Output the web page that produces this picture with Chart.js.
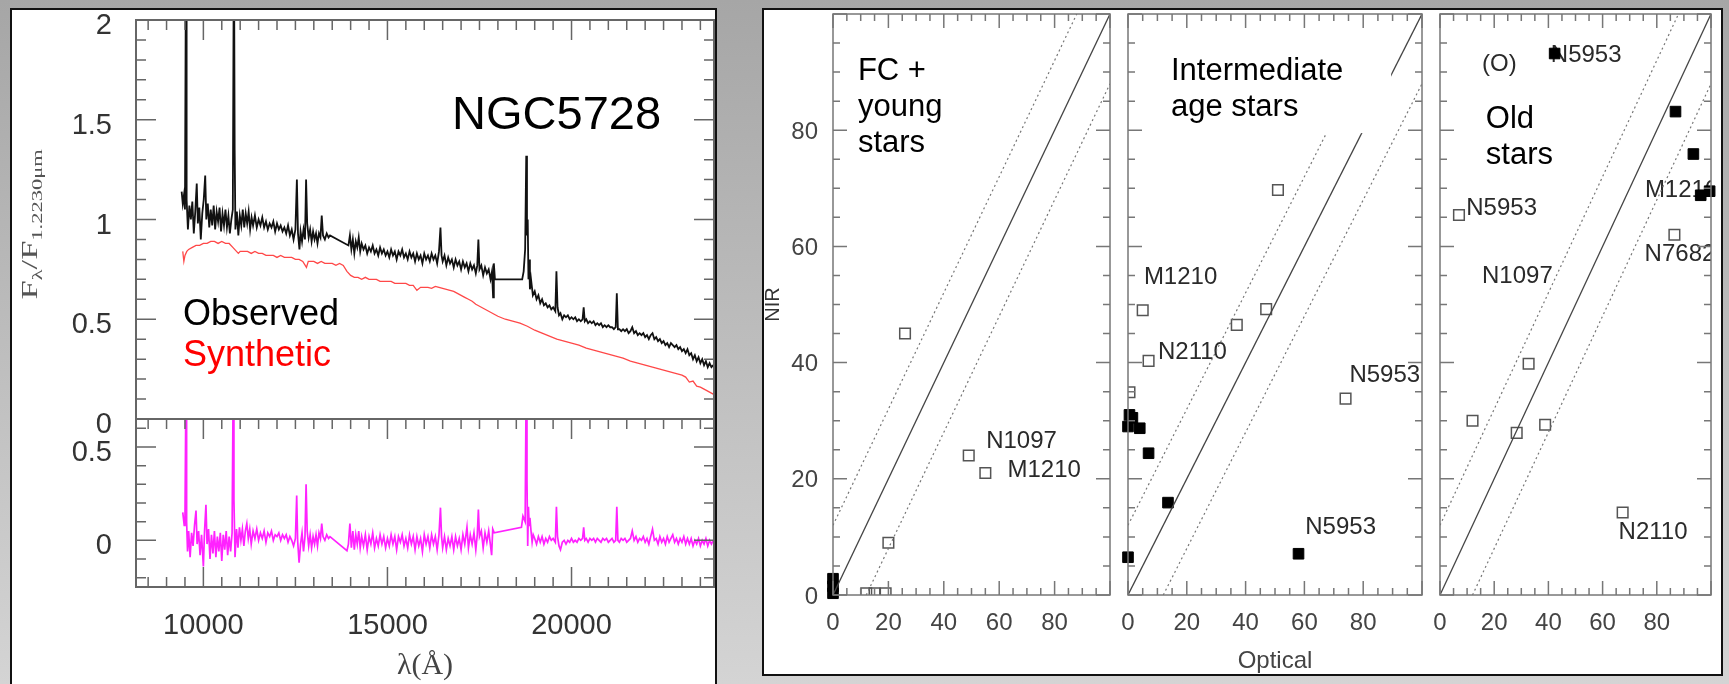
<!DOCTYPE html>
<html>
<head>
<meta charset="utf-8">
<script src="https://cdn.jsdelivr.net/npm/chart.js@4.4.1/dist/chart.umd.min.js"></script>
<style>
body { margin: 0; width: 1729px; height: 684px; overflow: hidden; position: relative;
       background: linear-gradient(#a6a6a6, #d4d4d4); }
.panel { position: absolute; background: #fff; border: 2px solid #111; box-sizing: border-box; }
canvas { position: absolute; }
</style>
</head>
<body>
<div class="panel" style="left:10px;top:8px;width:707px;height:700px"></div>
<div class="panel" style="left:762px;top:8px;width:961px;height:668px"></div>
<canvas id="specTop" width="717" height="450" style="left:0;top:0"></canvas>
<canvas id="specBot" width="717" height="284" style="left:0;top:400px"></canvas>
<canvas id="fc" width="355" height="676" style="left:764px;top:0"></canvas>
<canvas id="inter" width="312" height="676" style="left:1119px;top:0"></canvas>
<canvas id="old" width="289" height="676" style="left:1431px;top:0"></canvas>
<script>
// ---- spectrum of NGC5728 (wavelength in Angstrom, flux normalised at 1.2230 micron)
const waveRange = [8170, 23870];
const waveTicks = [10000, 15000, 20000];
const fluxTicks = [0, 0.5, 1, 1.5, 2];
const resTicks = [0, 0.5];

const observed = [
  [9410,1.14],[9440,1.08],[9470,1.12],[9500,1.05],[9530,2.5],[9545,1.10],[9580,0.95],[9620,1.07],
  [9660,1.00],[9700,1.09],[9740,0.93],[9780,1.04],[9820,1.18],[9850,0.98],[9890,1.06],[9930,0.90],
  [9970,1.03],[10010,1.10],[10050,1.22],[10080,1.00],[10120,1.08],[10160,0.96],[10200,1.05],[10240,0.97],
  [10280,1.07],[10320,0.95],[10360,1.04],[10400,0.99],[10440,1.06],[10480,0.94],[10520,1.03],[10560,0.97],
  [10600,1.05],[10640,0.96],[10680,1.02],[10720,0.93],[10760,1.00],[10800,1.05],[10830,2.5],[10850,1.35],
  [10870,0.95],[10910,1.04],[10950,0.92],[10990,1.02],[11030,0.97],[11070,1.05],[11110,0.96],[11150,1.03],
  [11190,0.98],[11230,1.04],[11270,0.95],[11310,1.01],[11350,0.97],[11400,1.02],[11450,0.96],[11500,1.00],
  [11550,0.97],[11600,1.01],[11650,0.96],[11700,0.99],[11750,0.95],[11800,0.98],[11850,0.96],[11900,0.99],
  [11950,0.94],[12000,0.98],[12050,0.95],[12100,0.97],[12150,0.94],[12200,0.96],[12250,0.93],[12300,0.97],
  [12350,0.92],[12400,0.95],[12450,0.90],[12500,0.95],[12540,1.20],[12570,0.93],[12610,0.85],[12640,0.94],
  [12680,0.89],[12720,0.95],[12760,0.90],[12790,1.20],[12820,0.98],[12860,0.91],[12900,0.95],[12940,0.89],
  [12980,0.94],[13020,0.90],[13060,0.93],[13100,0.88],[13140,0.93],[13180,0.91],[13215,1.02],[13250,0.92],
  [13300,0.90],[13350,0.93],[13400,0.91],[13440,0.92],[13940,0.87],[13980,0.92],[14020,0.85],[14060,0.90],
  [14100,0.83],[14140,0.89],[14180,0.86],[14220,0.91],[14260,0.84],[14300,0.88],[14350,0.85],[14400,0.87],
  [14450,0.83],[14500,0.86],[14550,0.84],[14600,0.87],[14650,0.83],[14700,0.85],[14750,0.82],[14800,0.86],
  [14850,0.83],[14900,0.85],[14950,0.82],[15000,0.84],[15050,0.81],[15100,0.85],[15150,0.82],[15200,0.84],
  [15250,0.80],[15300,0.84],[15350,0.82],[15400,0.85],[15450,0.81],[15500,0.83],[15550,0.80],[15600,0.84],
  [15650,0.81],[15700,0.83],[15750,0.79],[15800,0.83],[15850,0.80],[15900,0.82],[15950,0.78],[16000,0.83],
  [16050,0.80],[16100,0.82],[16150,0.79],[16200,0.83],[16250,0.80],[16300,0.82],[16350,0.78],[16400,0.84],
  [16440,0.96],[16470,0.82],[16500,0.79],[16550,0.82],[16600,0.77],[16650,0.81],[16700,0.78],[16750,0.80],
  [16800,0.76],[16850,0.80],[16900,0.77],[16950,0.79],[17000,0.75],[17050,0.79],[17100,0.76],[17150,0.78],
  [17200,0.74],[17250,0.78],[17300,0.75],[17350,0.77],[17400,0.73],[17440,0.77],[17470,0.90],[17500,0.75],
  [17550,0.77],[17600,0.72],[17650,0.76],[17700,0.73],[17750,0.75],[17800,0.70],[17840,0.74],[17870,0.61],
  [17890,0.78],[17920,0.70],[18660,0.70],[18700,0.74],[18740,0.85],[18770,1.32],[18790,0.92],[18810,1.00],
  [18830,0.70],[18850,0.80],[18870,0.65],[18900,0.70],[18950,0.62],[19000,0.64],[19050,0.60],[19100,0.62],
  [19150,0.58],[19200,0.60],[19250,0.57],[19300,0.58],[19350,0.56],[19400,0.57],[19450,0.55],[19500,0.56],
  [19560,0.54],[19590,0.74],[19620,0.56],[19660,0.52],[19700,0.53],[19750,0.50],[19800,0.52],[19850,0.51],
  [19900,0.52],[19950,0.50],[20000,0.51],[20050,0.50],[20100,0.51],[20150,0.49],[20200,0.50],[20250,0.49],
  [20300,0.50],[20330,0.56],[20360,0.49],[20400,0.50],[20450,0.48],[20500,0.49],[20550,0.48],[20600,0.49],
  [20650,0.47],[20700,0.48],[20750,0.47],[20800,0.48],[20850,0.46],[20900,0.47],[20950,0.46],[21000,0.47],
  [21050,0.46],[21100,0.46],[21150,0.45],[21200,0.46],[21230,0.63],[21260,0.45],[21300,0.45],[21350,0.44],
  [21400,0.45],[21450,0.44],[21500,0.45],[21550,0.43],[21600,0.44],[21650,0.46],[21700,0.43],[21750,0.44],
  [21800,0.42],[21850,0.43],[21900,0.42],[21950,0.43],[22000,0.41],[22050,0.42],[22100,0.40],[22150,0.42],
  [22200,0.43],[22250,0.40],[22300,0.41],[22350,0.39],[22400,0.40],[22450,0.38],[22500,0.39],[22550,0.37],
  [22600,0.38],[22650,0.36],[22700,0.38],[22750,0.37],[22800,0.36],[22850,0.37],[22900,0.35],[22950,0.36],
  [23000,0.34],[23050,0.35],[23100,0.33],[23150,0.35],[23200,0.32],[23250,0.33],[23300,0.30],[23350,0.32],
  [23400,0.29],[23450,0.31],[23500,0.28],[23550,0.30],[23600,0.27],[23650,0.29],[23700,0.26],[23750,0.28],
  [23800,0.26],[23850,0.27]
];

const synthetic = [
  [9440,0.84],[9470,0.79],[9500,0.82],[9550,0.84],[9600,0.85],[9700,0.86],[9800,0.87],[9900,0.87],
  [10000,0.88],[10100,0.88],[10200,0.89],[10300,0.89],[10400,0.88],[10500,0.89],[10600,0.88],[10700,0.88],
  [10800,0.86],[10900,0.84],[10950,0.83],[11000,0.84],[11100,0.84],[11200,0.84],[11300,0.83],[11400,0.84],
  [11500,0.83],[11600,0.83],[11700,0.82],[11800,0.82],[11900,0.82],[12000,0.81],[12100,0.82],[12200,0.81],
  [12300,0.81],[12400,0.81],[12500,0.80],[12600,0.80],[12700,0.79],[12800,0.76],[12850,0.79],[12900,0.79],
  [13000,0.79],[13100,0.78],[13200,0.79],[13300,0.78],[13400,0.78],[13500,0.78],[13600,0.77],[13700,0.78],
  [13800,0.77],[13900,0.74],[14000,0.72],[14100,0.71],[14200,0.71],[14300,0.70],[14400,0.71],[14500,0.70],
  [14600,0.70],[14700,0.70],[14800,0.69],[14900,0.69],[15000,0.69],[15100,0.69],[15200,0.68],[15300,0.68],
  [15400,0.68],[15500,0.68],[15600,0.67],[15700,0.67],[15800,0.645],[15900,0.66],[16000,0.66],[16100,0.66],
  [16200,0.655],[16300,0.665],[16400,0.66],[16500,0.655],[16600,0.65],[16700,0.645],[16800,0.64],[16900,0.63],
  [17000,0.62],[17100,0.61],[17200,0.60],[17300,0.59],[17400,0.575],[17500,0.565],[17600,0.555],[17700,0.545],
  [17800,0.535],[17900,0.525],[18000,0.515],[18200,0.50],[18400,0.49],[18600,0.48],[18800,0.465],[19000,0.445],
  [19200,0.43],[19400,0.415],[19600,0.40],[19800,0.39],[20000,0.38],[20200,0.37],[20400,0.355],[20600,0.345],
  [20800,0.335],[21000,0.325],[21200,0.315],[21400,0.305],[21600,0.29],[21800,0.28],[22000,0.27],[22200,0.26],
  [22400,0.25],[22600,0.24],[22800,0.23],[23000,0.22],[23100,0.21],[23200,0.185],[23300,0.19],[23400,0.165],
  [23500,0.16],[23600,0.15],[23700,0.14],[23850,0.125]
];

const residual = [
  [9440,0.15],[9480,0.08],[9500,0.12],[9530,0.9],[9545,0.10],[9570,-0.06],[9600,0.05],[9640,-0.09],
  [9680,0.04],[9720,-0.03],[9760,0.08],[9800,0.16],[9830,-0.02],[9870,0.05],[9910,-0.08],[9950,0.03],
  [10000,-0.14],[10030,0.04],[10070,0.19],[10100,-0.02],[10140,0.06],[10180,-0.10],[10220,0.03],[10260,-0.07],
  [10300,0.05],[10340,-0.09],[10380,0.02],[10420,-0.06],[10460,0.04],[10500,-0.11],[10540,0.03],[10580,-0.05],
  [10620,0.05],[10660,-0.08],[10700,0.02],[10740,-0.06],[10780,0.04],[10812,0.9],[10830,0.22],[10860,-0.09],
  [10900,0.06],[10940,-0.04],[10980,0.07],[11020,0.00],[11060,0.06],[11100,-0.03],[11140,0.05],[11180,0.09],
  [11220,0.01],[11260,0.06],[11300,-0.02],[11350,0.05],[11400,0.01],[11450,0.06],[11500,0.00],[11550,0.04],
  [11600,0.01],[11650,0.05],[11700,-0.01],[11750,0.04],[11800,0.02],[11850,0.05],[11900,0.00],[11950,0.03],
  [12000,0.02],[12050,0.04],[12100,0.00],[12150,0.03],[12200,0.01],[12250,0.03],[12300,-0.01],[12350,0.02],
  [12400,0.00],[12450,-0.03],[12500,0.01],[12535,0.24],[12560,0.00],[12600,-0.12],[12640,-0.02],[12680,0.04],
  [12720,-0.06],[12760,0.02],[12790,0.30],[12820,0.05],[12860,-0.03],[12900,0.03],[12940,-0.04],[12980,0.02],
  [13020,-0.02],[13060,0.03],[13100,-0.03],[13140,0.04],[13180,0.01],[13215,0.09],[13250,0.02],[13300,0.00],
  [13350,0.03],[13400,0.01],[13440,0.02],[13900,-0.055],[13940,-0.02],[13980,0.09],[14020,-0.04],[14060,0.05],
  [14100,-0.05],[14140,0.03],[14180,-0.02],[14220,0.05],[14260,-0.04],[14300,0.02],[14350,-0.03],[14400,0.03],
  [14450,-0.05],[14500,0.02],[14550,-0.02],[14600,0.04],[14650,-0.04],[14700,0.01],[14750,-0.03],[14800,0.03],
  [14850,-0.02],[14900,0.02],[14950,-0.04],[15000,0.01],[15050,-0.03],[15100,0.03],[15150,-0.02],[15200,0.02],
  [15250,-0.05],[15300,0.02],[15350,-0.01],[15400,0.03],[15450,-0.03],[15500,0.01],[15550,-0.04],[15600,0.03],
  [15650,-0.02],[15700,0.02],[15750,-0.05],[15800,0.02],[15850,-0.03],[15900,0.01],[15950,-0.06],[16000,0.03],
  [16050,-0.02],[16100,0.02],[16150,-0.04],[16200,0.03],[16250,-0.02],[16300,0.02],[16350,-0.05],[16400,0.03],
  [16440,0.175],[16470,0.02],[16500,-0.04],[16550,0.02],[16600,-0.05],[16650,0.01],[16700,-0.03],[16750,0.02],
  [16800,-0.05],[16850,0.02],[16900,-0.03],[16950,0.01],[17000,-0.05],[17050,0.03],[17100,-0.02],[17160,0.07],
  [17200,-0.04],[17250,0.03],[17300,-0.02],[17350,0.04],[17400,-0.05],[17440,0.03],[17470,0.165],[17500,0.02],
  [17550,0.05],[17600,-0.04],[17650,0.04],[17700,-0.01],[17750,0.05],[17800,-0.03],[17830,-0.08],[17860,0.06],
  [17900,0.04],[18640,0.07],[18680,0.13],[18740,0.10],[18770,0.9],[18790,0.32],[18810,-0.03],[18830,0.18],
  [18850,0.08],[18870,0.12],[18900,0.05],[18930,-0.01],[18960,0.03],[19000,0.01],[19050,-0.02],[19100,0.02],
  [19150,-0.01],[19200,0.02],[19250,-0.02],[19300,0.01],[19350,-0.01],[19400,0.02],[19450,0.00],[19500,0.01],
  [19560,-0.01],[19590,0.18],[19620,0.02],[19660,-0.03],[19700,-0.05],[19750,-0.01],[19800,0.00],[19850,-0.02],
  [19900,0.00],[19950,-0.01],[20000,0.01],[20050,-0.01],[20100,0.00],[20150,-0.01],[20200,0.01],[20250,0.00],
  [20300,0.01],[20330,0.07],[20360,0.00],[20400,0.01],[20450,-0.01],[20500,0.01],[20550,0.00],[20600,0.01],
  [20650,-0.01],[20700,0.01],[20750,0.00],[20800,-0.01],[20850,0.01],[20900,0.00],[20950,0.01],[21000,-0.01],
  [21050,0.00],[21100,0.01],[21150,-0.01],[21200,0.00],[21230,0.18],[21260,0.00],[21300,-0.01],[21350,0.01],
  [21400,0.00],[21450,0.01],[21500,-0.01],[21550,0.00],[21600,0.01],[21650,0.05],[21700,0.00],[21750,0.02],
  [21800,-0.01],[21850,0.01],[21900,0.00],[21950,0.02],[22000,-0.01],[22050,0.01],[22100,-0.02],[22150,0.02],
  [22200,0.06],[22250,0.00],[22300,0.01],[22350,-0.02],[22400,0.02],[22450,-0.01],[22500,0.01],[22550,-0.02],
  [22600,0.02],[22650,-0.01],[22700,0.01],[22750,0.03],[22800,-0.01],[22850,0.01],[22900,-0.02],[22950,0.01],
  [23000,-0.01],[23050,0.02],[23100,-0.02],[23150,0.01],[23200,-0.02],[23250,0.01],[23300,-0.03],[23350,0.00],
  [23400,-0.02],[23450,0.01],[23500,-0.03],[23550,0.00],[23600,-0.02],[23650,0.01],[23700,-0.03],[23750,0.00],
  [23800,-0.02],[23850,0.00]
];

// ---- optical vs NIR population fractions (%)
const pctTicks = [0, 20, 40, 60, 80];
const diagX = [0, 100], diagY = [0, 100];
const bandUpX = [0, 88], bandUpY = [12, 100];
const bandLoX = [12, 100], bandLoY = [0, 88];

const fcOpenX = [26, 49, 55, 20, 12, 15, 19];
const fcOpenY = [45, 24, 21, 9, 0.3, 0.3, 0.3];
const fcFillX = [0, 0, 0];
const fcFillY = [0.3, 1.5, 2.8];

const intOpenX = [51, 5, 37, 47, 7, 0.5, 74];
const intOpenY = [69.7, 49, 46.5, 49.2, 40.3, 34.9, 33.8];
const intFillX = [0.5, 1.5, 0, 4, 7, 13.6, 0, 58];
const intFillY = [31, 30.5, 29, 28.7, 24.4, 15.9, 6.5, 7.1];

const oldOpenX = [7, 32.7, 12, 28.3, 38.8, 67.4, 86.5];
const oldOpenY = [65.4, 39.8, 30, 27.9, 29.3, 14.2, 62];
const oldFillX = [42.3, 86.9, 93.5, 96.2, 99.5];
const oldFillY = [93.2, 83.2, 75.9, 68.8, 69.5];

const fcNames = [{t: 'N1097', x: 55.3, y: 26.5}, {t: 'M1210', x: 63, y: 21.4}];
const intNames = [{t: 'M1210', x: 5.4, y: 54.7}, {t: 'N2110', x: 10.2, y: 41.7},
                  {t: 'N5953', x: 75.3, y: 37.8}, {t: 'N5953', x: 60.3, y: 11.6}];
const oldNames = [{t: '(O)', x: 15.5, y: 91.3}, {t: 'N5953', x: 40.9, y: 92.8},
                  {t: 'N5953', x: 9.7, y: 66.6}, {t: 'N1097', x: 15.5, y: 54.8},
                  {t: 'M1210', x: 75.6, y: 69.7}, {t: 'N7682', x: 75.5, y: 58.6},
                  {t: 'N2110', x: 65.9, y: 10.7}];

const sans = '"Liberation Sans", Arial, sans-serif';
const serif = '"Liberation Serif", "Times New Roman", serif';

const toXY = pairs => pairs.map(p => ({x: p[0], y: p[1]}));
const zipXY = (xs, ys) => xs.map((v, i) => ({x: v, y: ys[i]}));

// extra drawing per canvas: frame with inward ticks, annotations
const decorCfg = {
  specTop: {
    frame: {xMajor: 5000, xMinor: 500, yMajor: 0.5, yMinor: 0.1, majorLen: 20, minorLen: 10,
            color: '#666', width: 2, top: true, bottom: false},
    texts: [{lines: ['NGC5728'], x: 16755, y: 1.455, size: 47, color: '#000'},
            {lines: ['Observed'], x: 9446, y: 0.471, size: 36, color: '#000'},
            {lines: ['Synthetic'], x: 9446, y: 0.266, size: 36, color: '#ff0000'}],
    fluxTitle: true
  },
  specBot: {
    frame: {xMajor: 5000, xMinor: 500, yMajor: 0.5, yMinor: 0.1, majorLen: 20, minorLen: 10,
            color: '#666', width: 2, top: true, bottom: true}
  },
  fc: {
    frame: {xMajor: 20, xMinor: 5, yMajor: 20, yMinor: 5, majorLen: 14, minorLen: 7,
            color: '#777', width: 1.5, top: true, bottom: true},
    names: fcNames,
    texts: [{lines: ['FC +', 'young', 'stars'], x: 9, y: 88.6, size: 31, color: '#000'}]
  },
  inter: {
    frame: {xMajor: 20, xMinor: 5, yMajor: 20, yMinor: 5, majorLen: 14, minorLen: 7,
            color: '#777', width: 1.5, top: true, bottom: true},
    names: intNames,
    box: {x0: 12, x1: 89.5, y0: 79.5, y1: 100},
    texts: [{lines: ['Intermediate', 'age stars'], x: 14.6, y: 88.7, size: 31, color: '#000'}]
  },
  old: {
    frame: {xMajor: 20, xMinor: 5, yMajor: 20, yMinor: 5, majorLen: 14, minorLen: 7,
            color: '#777', width: 1.5, top: true, bottom: true},
    names: oldNames,
    texts: [{lines: ['Old', 'stars'], x: 16.9, y: 80.4, size: 31, color: '#000'}]
  }
};

function drawFrame(chart, f) {
  const {ctx, chartArea: a, scales: {x, y}} = chart;
  ctx.save();
  ctx.strokeStyle = f.color;
  ctx.lineWidth = 1.5;
  ctx.beginPath();
  const run = (scale, step, len, horiz) => {
    for (let i = Math.ceil(scale.min / step - 1e-6); i * step <= scale.max + 1e-6; i++) {
      const p = scale.getPixelForValue(i * step);
      if (horiz) {
        if (f.bottom) { ctx.moveTo(p, a.bottom); ctx.lineTo(p, a.bottom - len); }
        if (f.top) { ctx.moveTo(p, a.top); ctx.lineTo(p, a.top + len); }
      } else {
        ctx.moveTo(a.left, p); ctx.lineTo(a.left + len, p);
        ctx.moveTo(a.right, p); ctx.lineTo(a.right - len, p);
      }
    }
  };
  run(x, f.xMinor, f.minorLen, true);
  run(x, f.xMajor, f.majorLen, true);
  run(y, f.yMinor, f.minorLen, false);
  run(y, f.yMajor, f.majorLen, false);
  ctx.stroke();
  ctx.lineWidth = f.width;
  ctx.strokeRect(a.left, a.top, a.right - a.left, a.bottom - a.top);
  ctx.restore();
}

function drawFluxTitle(chart) {
  const {ctx, chartArea: a} = chart;
  const mid = (a.top + a.bottom) / 2;
  ctx.save();
  ctx.translate(37, mid + 80);
  ctx.rotate(-Math.PI / 2);
  ctx.scale(1.5, 1);
  ctx.fillStyle = '#555';
  let pos = 0;
  const put = (t, size, dy) => {
    ctx.font = size + 'px ' + serif;
    ctx.fillText(t, pos, dy);
    pos += ctx.measureText(t).width;
  };
  put('F', 23, 0); put('λ', 15, 5); put('/', 23, 0); put('F', 23, 0); put('1.2230μm', 15, 5);
  ctx.restore();
}

const decor = {
  id: 'decor',
  beforeDatasetsDraw(chart) {
    const cfg = decorCfg[chart.canvas.id];
    if (!cfg || !cfg.names) return;
    const {ctx, chartArea: a, scales: {x, y}} = chart;
    ctx.save();
    ctx.beginPath();
    ctx.rect(a.left, a.top, a.right - a.left, a.bottom - a.top);
    ctx.clip();
    ctx.font = '24px ' + sans;
    ctx.fillStyle = '#2a2a2a';
    ctx.textBaseline = 'middle';
    cfg.names.forEach(n => ctx.fillText(n.t, x.getPixelForValue(n.x), y.getPixelForValue(n.y)));
    ctx.restore();
  },
  afterDatasetsDraw(chart) {
    const cfg = decorCfg[chart.canvas.id];
    if (!cfg) return;
    const {ctx, scales: {x, y}} = chart;
    ctx.save();
    if (cfg.box) {
      const b = cfg.box;
      const px0 = x.getPixelForValue(b.x0), px1 = x.getPixelForValue(b.x1);
      const py0 = y.getPixelForValue(b.y1), py1 = y.getPixelForValue(b.y0);
      ctx.fillStyle = '#fff';
      ctx.fillRect(px0, py0, px1 - px0, py1 - py0);
    }
    (cfg.texts || []).forEach(t => {
      ctx.font = t.size + 'px ' + sans;
      ctx.fillStyle = t.color;
      ctx.textBaseline = 'alphabetic';
      const px = x.getPixelForValue(t.x), py = y.getPixelForValue(t.y);
      t.lines.forEach((line, i) => ctx.fillText(line, px, py + i * 36));
    });
    ctx.restore();
    drawFrame(chart, cfg.frame);
    if (cfg.fluxTitle) drawFluxTitle(chart);
  }
};
Chart.register(decor);

const baseOpts = {
  responsive: false,
  animation: false,
  events: [],
  plugins: {legend: {display: false}, tooltip: {enabled: false}}
};

// fixed axis sizes, and no extra room reserved for end labels
const fixY = w => s => { s.width = w; s.paddingTop = 0; s.paddingBottom = 0; };
const fixX = h => s => { s.height = h; s.paddingLeft = 0; s.paddingRight = 0; };

// upper spectrum
new Chart(document.getElementById('specTop'), {
  type: 'line',
  data: {datasets: [
    {data: toXY(synthetic), borderColor: '#ff4848', borderWidth: 1.3, pointRadius: 0},
    {data: toXY(observed), borderColor: '#111', borderWidth: 1.8, pointRadius: 0}
  ]},
  options: Object.assign({}, baseOpts, {
    layout: {padding: {left: 0, top: 20, right: 3, bottom: 31}},
    scales: {
      x: {type: 'linear', min: waveRange[0], max: waveRange[1], display: false},
      y: {min: 0, max: 2,
          afterFit: fixY(136),
          afterBuildTicks: s => { s.ticks = fluxTicks.map(v => ({value: v})); },
          grid: {display: false, drawTicks: false}, border: {display: false},
          ticks: {font: {size: 29, family: sans}, color: '#333', padding: 24, labelOffset: 6,
                  callback: v => String(v)}}
    }
  })
});

// residual
new Chart(document.getElementById('specBot'), {
  type: 'line',
  data: {datasets: [
    {data: toXY(residual), borderColor: '#ff22ff', borderWidth: 1.7, pointRadius: 0}
  ]},
  options: Object.assign({}, baseOpts, {
    layout: {padding: {left: 0, top: 19, right: 3, bottom: 0}},
    scales: {
      x: {type: 'linear', min: waveRange[0], max: waveRange[1],
          afterFit: fixX(97),
          afterBuildTicks: s => { s.ticks = waveTicks.map(v => ({value: v})); },
          grid: {display: false, drawTicks: false}, border: {display: false},
          ticks: {font: {size: 29, family: sans}, color: '#333', padding: 22, maxRotation: 0,
                  autoSkip: false, callback: v => String(v)},
          title: {display: true, text: 'λ(Å)', font: {size: 30, family: serif}, color: '#444',
                  padding: {top: 0, bottom: 0}}},
      y: {min: -0.25, max: 0.65,
          afterFit: fixY(136),
          afterBuildTicks: s => { s.ticks = resTicks.map(v => ({value: v})); },
          grid: {display: false, drawTicks: false}, border: {display: false},
          ticks: {font: {size: 29, family: sans}, color: '#333', padding: 24, labelOffset: 6,
                  callback: v => String(v)}}
    }
  })
});

function popChart(id, open, filled, opt) {
  return new Chart(document.getElementById(id), {
    type: 'scatter',
    data: {datasets: [
      {data: zipXY(diagX, diagY), showLine: true, borderColor: '#444', borderWidth: 1.3, pointRadius: 0},
      {data: zipXY(bandUpX, bandUpY), showLine: true, borderColor: '#777', borderWidth: 1.2,
       borderDash: [2, 3], pointRadius: 0},
      {data: zipXY(bandLoX, bandLoY), showLine: true, borderColor: '#777', borderWidth: 1.2,
       borderDash: [2, 3], pointRadius: 0},
      {data: open, pointStyle: 'rect', pointRadius: 7.5, borderColor: '#555', borderWidth: 1.5,
       backgroundColor: 'rgba(0,0,0,0)'},
      {data: filled, pointStyle: 'rect', pointRadius: 7.5, borderColor: '#000', borderWidth: 1,
       backgroundColor: '#000', clip: false}
    ]},
    options: Object.assign({}, baseOpts, {
      layout: {padding: opt.padding},
      scales: {
        x: {type: 'linear', min: 0, max: 100,
            afterFit: fixX(81),
            afterBuildTicks: s => { s.ticks = pctTicks.map(v => ({value: v})); },
            grid: {display: false, drawTicks: false}, border: {display: false},
            ticks: {font: {size: 24, family: sans}, color: '#444', padding: 14, maxRotation: 0,
                    autoSkip: false},
            title: {display: !!opt.xTitle, text: opt.xTitle || '', font: {size: 24, family: sans},
                    color: '#444', padding: {top: 0, bottom: 0}}},
        y: {type: 'linear', min: 0, max: 100, display: !!opt.yAxis,
            afterFit: fixY(opt.yAxis ? 69 : 0),
            afterBuildTicks: s => { s.ticks = pctTicks.map(v => ({value: v})); },
            grid: {display: false, drawTicks: false}, border: {display: false},
            ticks: {font: {size: 24, family: sans}, color: '#444', padding: 15, labelOffset: 2},
            title: {display: true, text: 'NIR', font: {size: 20, family: sans}, color: '#333',
                    padding: {top: -3, bottom: 0}}}
      }
    })
  });
}

popChart('fc', zipXY(fcOpenX, fcOpenY), zipXY(fcFillX, fcFillY),
         {padding: {left: 0, right: 8, top: 14, bottom: 0}, yAxis: true});
popChart('inter', zipXY(intOpenX, intOpenY), zipXY(intFillX, intFillY),
         {padding: {left: 8, right: 9, top: 14, bottom: 0}, xTitle: 'Optical'});
popChart('old', zipXY(oldOpenX, oldOpenY), zipXY(oldFillX, oldFillY),
         {padding: {left: 7, right: 4, top: 14, bottom: 0}});
</script>
</body>
</html>
